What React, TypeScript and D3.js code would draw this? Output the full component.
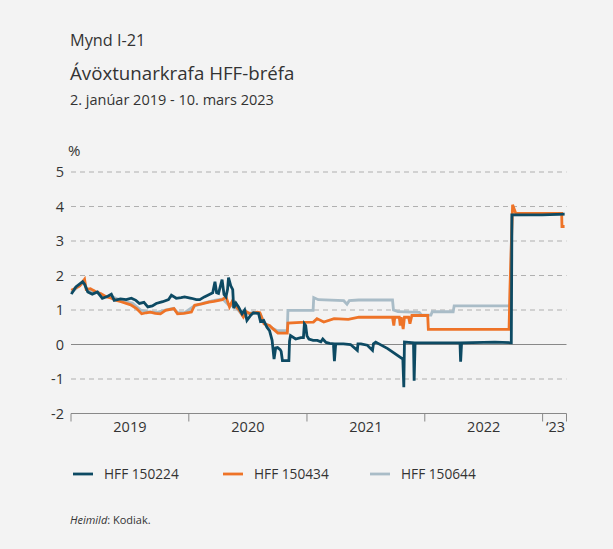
import React from "react";
import * as d3 from "d3";

const W = 613;
const H = 549;

const seriesNames = ["HFF 150224", "HFF 150434", "HFF 150644"];
const seriesColors = ["#0d4a63", "#ee7327", "#a9bcc7"];

const yTicks = [-2, -1, 0, 1, 2, 3, 4, 5];
const yearLabels = ["2019", "2020", "2021", "2022", "\u201823"];
const yearTickDates = ["2019-01-01", "2020-01-01", "2021-01-01", "2022-01-01", "2023-01-01"];

const dates150224 = [
  "2019-01-02","2019-01-16","2019-02-06","2019-02-12","2019-02-22","2019-03-08","2019-03-24","2019-04-08","2019-04-25","2019-05-06",
  "2019-05-15","2019-06-03","2019-06-21","2019-07-07","2019-07-21","2019-08-01","2019-08-15","2019-08-27","2019-09-10","2019-09-22",
  "2019-10-12","2019-10-30","2019-11-08","2019-11-23","2019-12-08","2019-12-19","2020-01-09","2020-01-24","2020-02-04","2020-02-18",
  "2020-02-29","2020-03-15","2020-03-22","2020-03-27","2020-04-02","2020-04-08","2020-04-13","2020-04-19","2020-04-25","2020-04-30",
  "2020-05-03","2020-05-10","2020-05-16","2020-05-19","2020-05-26","2020-06-03","2020-06-14","2020-06-22","2020-06-29","2020-07-11",
  "2020-07-19","2020-08-04","2020-08-10","2020-08-20","2020-08-30","2020-09-07","2020-09-15","2020-09-21","2020-09-26","2020-10-02",
  "2020-10-10","2020-10-13","2020-10-17","2020-11-06","2020-11-08","2020-11-11","2020-11-27","2020-12-13","2020-12-21","2020-12-24",
  "2020-12-28","2021-01-01","2021-01-07","2021-01-20","2021-02-02","2021-02-13","2021-02-19","2021-03-01","2021-03-12","2021-03-24",
  "2021-03-27","2021-03-31","2021-04-24","2021-05-16","2021-06-06","2021-06-08","2021-06-17","2021-07-07","2021-07-23","2021-07-26",
  "2021-08-02","2021-09-08","2021-10-25","2021-10-28","2021-10-30","2021-11-27","2021-11-29","2021-12-02","2022-04-20","2022-04-22",
  "2022-04-25","2022-08-06","2022-09-26","2022-09-28","2022-12-31","2023-03-10"
];
const values150224 = [
  1.46,1.67,1.82,1.75,1.52,1.46,1.52,1.34,1.40,1.46,
  1.28,1.32,1.30,1.34,1.28,1.19,1.22,1.09,1.12,1.19,
  1.24,1.30,1.43,1.34,1.36,1.38,1.34,1.30,1.30,1.38,
  1.43,1.50,1.82,1.50,1.48,1.70,1.88,1.45,1.38,1.60,
  1.94,1.70,1.59,1.05,1.20,1.09,0.89,1.00,0.70,0.85,
  0.92,0.90,0.67,0.70,0.50,0.40,0.12,-0.42,-0.10,-0.09,
  -0.15,-0.20,-0.47,-0.47,0.10,0.26,0.16,0.20,0.20,0.60,
  0.55,0.25,0.16,0.12,0.12,0.08,0.16,0.06,0.03,0.02,
  -0.48,0.02,0.02,0.00,-0.17,0.02,0.02,-0.02,-0.17,0.02,
  0.07,-0.12,-0.42,-1.24,0.07,0.05,-1.05,0.05,0.05,-0.50,
  0.05,0.07,0.05,3.76,3.76,3.78
];

const dates150434 = [
  "2019-01-02","2019-01-12","2019-01-28","2019-02-12","2019-02-17","2019-03-02","2019-03-20","2019-04-03","2019-04-21","2019-05-04",
  "2019-05-22","2019-06-05","2019-06-21","2019-07-05","2019-07-23","2019-08-08","2019-08-22","2019-09-04","2019-09-19","2019-10-05",
  "2019-10-21","2019-11-16","2019-11-27","2019-12-17","2020-01-09","2020-01-19","2020-02-10","2020-03-03","2020-03-19","2020-04-03",
  "2020-04-14","2020-04-25","2020-05-06","2020-05-16","2020-05-27","2020-06-05","2020-06-18","2020-06-27","2020-07-09","2020-07-31",
  "2020-08-08","2020-08-21","2020-09-07","2020-09-17","2020-10-03","2020-11-01","2020-11-03","2020-12-13","2021-01-21","2021-02-01",
  "2021-02-22","2021-03-26","2021-05-09","2021-06-11","2021-09-23","2021-09-27","2021-09-30","2021-10-14","2021-10-17","2021-10-20",
  "2021-10-26","2021-10-30","2021-11-12","2021-11-16","2021-11-22","2022-01-10","2022-01-12","2022-09-19","2022-09-22","2022-09-30",
  "2022-10-10","2023-03-01","2023-03-02","2023-03-10"
];
const values150434 = [
  1.57,1.62,1.70,1.89,1.60,1.62,1.52,1.48,1.38,1.35,
  1.28,1.24,1.19,1.15,1.04,0.89,0.92,0.94,0.90,0.89,
  0.99,1.04,0.89,0.90,0.94,1.14,1.18,1.23,1.25,1.28,
  1.30,1.38,1.09,1.28,1.09,1.00,0.80,0.95,0.89,0.94,
  0.92,0.60,0.55,0.46,0.33,0.33,0.62,0.64,0.65,0.75,
  0.65,0.75,0.73,0.79,0.79,0.55,0.79,0.79,0.55,0.79,
  0.45,0.79,0.79,0.60,0.84,0.84,0.44,0.44,1.67,4.05,
  3.80,3.80,3.42,3.42
];

const dates150644 = [
  "2019-01-02","2019-01-16","2019-02-10","2019-02-20","2019-03-15","2019-04-10","2019-05-10","2019-06-10","2019-07-10","2019-08-05",
  "2019-08-25","2019-09-25","2019-10-20","2019-11-15","2019-11-27","2019-12-20","2020-01-15","2020-02-15","2020-03-20","2020-04-15",
  "2020-05-06","2020-05-20","2020-06-15","2020-07-15","2020-08-10","2020-08-22","2020-09-15","2020-10-01","2020-11-01","2020-11-03",
  "2021-01-20","2021-01-22","2021-02-05","2021-04-25","2021-05-05","2021-05-12","2021-06-10","2021-09-23","2021-09-26","2021-10-10",
  "2021-12-15","2021-12-22","2022-01-20","2022-01-24","2022-03-30","2022-04-02","2022-09-22","2022-09-28","2023-03-10"
];
const values150644 = [
  1.50,1.62,1.80,1.58,1.55,1.40,1.38,1.25,1.20,1.00,
  0.95,0.93,1.00,1.05,0.92,0.93,1.10,1.20,1.28,1.32,
  1.12,1.15,0.85,0.92,0.88,0.62,0.48,0.40,0.40,0.99,
  0.99,1.36,1.30,1.27,1.17,1.27,1.29,1.29,1.00,0.95,
  0.93,0.85,0.85,0.95,0.95,1.12,1.12,3.76,3.78
];

const FONT = "'Open Sans', 'Noto Sans', sans-serif";
const TEXT = "#333333";

export default function App() {
  const parse = d3.timeParse("%Y-%m-%d");
  const margin = { left: 71, right: 566.5, top: 172, bottom: 413.5 };
  const x = d3
    .scaleTime()
    .domain([parse("2019-01-01")!, parse("2023-03-16")!])
    .range([margin.left, margin.right]);
  const y = d3.scaleLinear().domain([-2, 5]).range([margin.bottom, margin.top]);

  const mk = (ds: string[], vs: number[]) => ds.map((d, i) => ({ d: parse(d)!, v: vs[i] }));
  const series = [
    mk(dates150224, values150224),
    mk(dates150434, values150434),
    mk(dates150644, values150644),
  ];
  const line = d3
    .line<{ d: Date; v: number }>()
    .x((p) => x(p.d))
    .y((p) => y(p.v));

  const tickXs = [...yearTickDates.map((d) => x(parse(d)!)), margin.right];
  const labelXs = tickXs.slice(0, -1).map((t, i) => (t + tickXs[i + 1]) / 2);

  const drawOrder = [2, 1, 0];
  const legendX = [73, 223, 370];

  return (
    <svg width={W} height={H} style={{ position: "absolute", left: 0, top: 0 }} fontFamily={FONT}>
      <rect x={0} y={0} width={W} height={H} fill="#f3f3f3" />
      <text x={70} y={46} fontSize={16.3} fill={TEXT}>Mynd I-21</text>
      <text x={70} y={80} fontSize={18.7} fill={TEXT}>Ávöxtunarkrafa HFF-bréfa</text>
      <text x={70} y={105} fontSize={14.5} fill={TEXT}>2. janúar 2019 - 10. mars 2023</text>
      <text x={68} y={156} fontSize={15} fill={TEXT}>%</text>

      {yTicks.map((t) => (
        <g key={t}>
          {t !== 0 && t !== -2 && (
            <line x1={margin.left} x2={margin.right} y1={y(t)} y2={y(t)} stroke="#b0b0b0" strokeWidth={1.2} strokeDasharray="5,4" />
          )}
          <text x={64} y={y(t) + 5} fontSize={14.5} textAnchor="end" fill={TEXT}>{t}</text>
        </g>
      ))}
      <line x1={margin.left} x2={margin.right} y1={y(0)} y2={y(0)} stroke="#888888" strokeWidth={1} />

      {drawOrder.map((i) => (
        <path key={i} d={line(series[i]) || ""} fill="none" stroke={seriesColors[i]} strokeWidth={2.8} strokeLinejoin="miter" />
      ))}

      <line x1={margin.left} x2={margin.right} y1={margin.bottom} y2={margin.bottom} stroke="#888888" strokeWidth={1} />
      {tickXs.map((tx, i) => (
        <line key={i} x1={tx} x2={tx} y1={margin.bottom} y2={margin.bottom + 8} stroke="#888888" strokeWidth={1} />
      ))}
      {yearLabels.map((l, i) => (
        <text key={l} x={i === 4 ? labelXs[i] + 1 : labelXs[i]} y={432} fontSize={14.5} textAnchor="middle" fill={TEXT}>{l}</text>
      ))}

      {seriesNames.map((n, i) => (
        <g key={n}>
          <line x1={legendX[i]} x2={legendX[i] + 20} y1={474} y2={474} stroke={seriesColors[i]} strokeWidth={2.8} />
          <text x={legendX[i] + 31} y={479} fontSize={13.7} fill={TEXT}>{n}</text>
        </g>
      ))}

      <text x={70} y={524} fontSize={11} fill={TEXT}>
        <tspan fontStyle="italic">Heimild</tspan>: Kodiak.
      </text>
    </svg>
  );
}
